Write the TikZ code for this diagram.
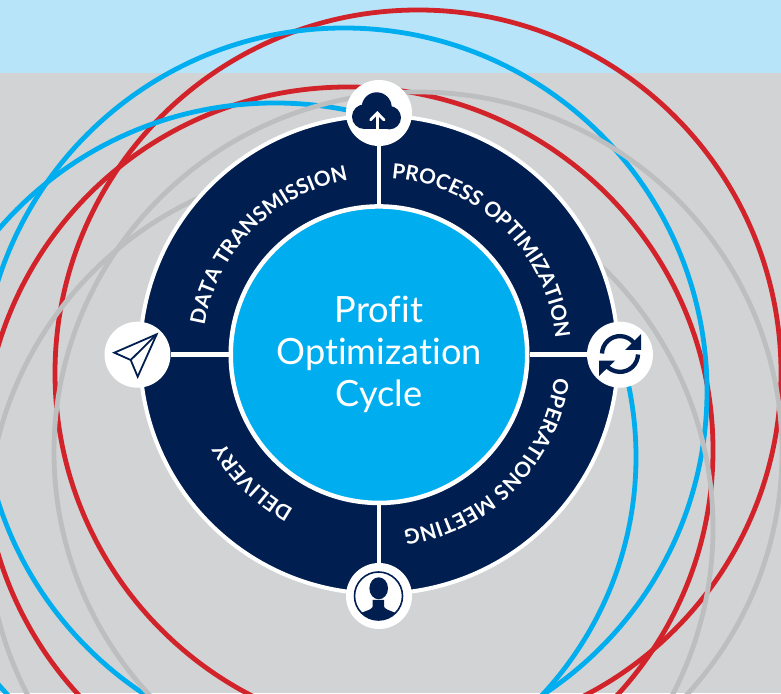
\documentclass[tikz,border=0pt]{standalone}
\usepackage{fontspec}
\setmainfont{Lato}[Ligatures=NoCommon]
\newfontfamily\labelfont{Lato}[UprightFont={* Bold},Ligatures=NoCommon]
\usetikzlibrary{decorations.text}
\definecolor{skyc}{HTML}{B8E4FA}
\definecolor{bgc}{HTML}{D1D3D4}
\definecolor{navyc}{HTML}{011E50}
\definecolor{bluec}{HTML}{00AEEF}
\definecolor{redc}{HTML}{D2232A}
\definecolor{grayc}{HTML}{BCBEC0}
\newcommand{\ringlabel}[3]{%
  \path[decorate,decoration={text along path,text align=center,
    text={|\labelfont\fontsize{20.8}{22}\selectfont\color{white}|#1}}]
    ([shift={(#2:177pt)}]hub.center) arc[start angle=#2,end angle=#3,radius=177pt];}
\tikzset{
  redarc/.style={draw=redc,line width=4.8pt},
  bluearc/.style={draw=bluec,line width=4.8pt},
  grayarc/.style={draw=grayc,line width=4.8pt},
  spoke/.style={draw=white,line width=4.4pt},
  badge/.style={circle,fill=white,minimum size=66pt,inner sep=0pt,outer sep=0pt},
  ringnode/.style={circle,fill=navyc,draw=white,line width=4pt,minimum size=478pt,inner sep=0pt},
  hubnode/.style={circle,fill=bluec,draw=white,line width=4.5pt,minimum size=296.5pt,inner sep=0pt,
    text=white,align=center,font=\fontsize{36.2}{42}\selectfont},
  iconline/.style={draw=navyc,line width=1.8pt,line join=miter}
}
\begin{document}
\begin{tikzpicture}[x=1pt,y=1pt]
\useasboundingbox (0,0) rectangle (781,693);
\clip (0,0) rectangle (781,693);
\fill[bgc] (0,0) rectangle (781,620);
\fill[skyc] (0,620) rectangle (781,693);
% orbit curves
\path[redarc] (418,320) circle[x radius=363pt,y radius=363pt];
\path[redarc] (348,243) circle[x radius=365pt,y radius=363pt];
\path[bluearc] (344,302) circle[x radius=363pt,y radius=363pt];
\path[bluearc] (275,236) circle[x radius=361pt,y radius=354pt];
\path[grayarc] (418,241) circle[x radius=364pt,y radius=360pt];
\path[grayarc] (350,165) circle[x radius=363pt,y radius=363pt];
% wheel
\node[ringnode] (ring) at (379,338.3) {};
\node[hubnode] (hub) at (379,338.3) {Profit\\Optimization\\Cycle};
\node[badge] (itop) at (379,580) {};
\node[badge] (ileft) at (137.5,338.3) {};
\node[badge] (iright) at (620,338.3) {};
\node[badge] (ibot) at (379,97) {};
\draw[spoke] (hub) -- (itop);
\draw[spoke] (hub) -- (ileft);
\draw[spoke] (hub) -- (iright);
\draw[spoke] (hub) -- (ibot);
% ring labels
\ringlabel{DATA TRANSMISSION}{170.5}{100}
\ringlabel{PROCESS OPTIMIZATION}{86.7}{4.4}
\ringlabel{OPERATIONS MEETING}{-6.4}{-83}
\ringlabel{DELIVERY}{240.7}{210}
% cloud icon
\fill[navyc] (364.3,576.3) circle[radius=12.3pt];
\fill[navyc] (389.3,575.3) circle[radius=11.7pt];
\fill[navyc] (376.7,585.7) circle[radius=15pt];
\fill[navyc] (364,564) rectangle (389.3,576.3);
\draw[white,line width=2.8pt,line cap=round,line join=miter] (370.5,573) -- (377.3,580) -- (384.1,573);
\draw[white,line width=2.8pt] (377.3,564) -- (377.3,580);
% paper plane icon
\draw[iconline] (156.7,358.7) -- (114.3,340.3) -- (130.7,333) -- (137.7,316.3) -- cycle;
\draw[iconline] (130.7,333) -- (156.7,358.7);
% refresh icon
\draw[navyc,line width=4.3pt] (602,339.5) arc[start angle=178,end angle=40,radius=18pt];
\draw[navyc,line width=4.3pt] (638,338.5) arc[start angle=-2,end angle=-140,radius=18pt];
\fill[navyc] (641,359) -- (641,343) -- (625,343) -- cycle;
\fill[navyc] (599,332.3) -- (615,332.3) -- (599,317) -- cycle;
% person icon
\draw[navyc,line width=1.6pt] (378.5,97) circle[radius=24pt];
\begin{scope}
\clip (378.5,97) circle[radius=24pt];
\fill[navyc] (378.7,104.7) ellipse[x radius=9.3pt,y radius=11pt];
\fill[navyc] (372.7,93) -- (372.7,86.3) .. controls (370,81) and (358.3,82) .. (358.3,76)
  -- (358.3,69.7) -- (398.3,69.7) -- (398.3,76) .. controls (398.3,82) and (387,81) .. (384,86.3)
  -- (384,93) -- cycle;
\end{scope}
\end{tikzpicture}
\end{document}
